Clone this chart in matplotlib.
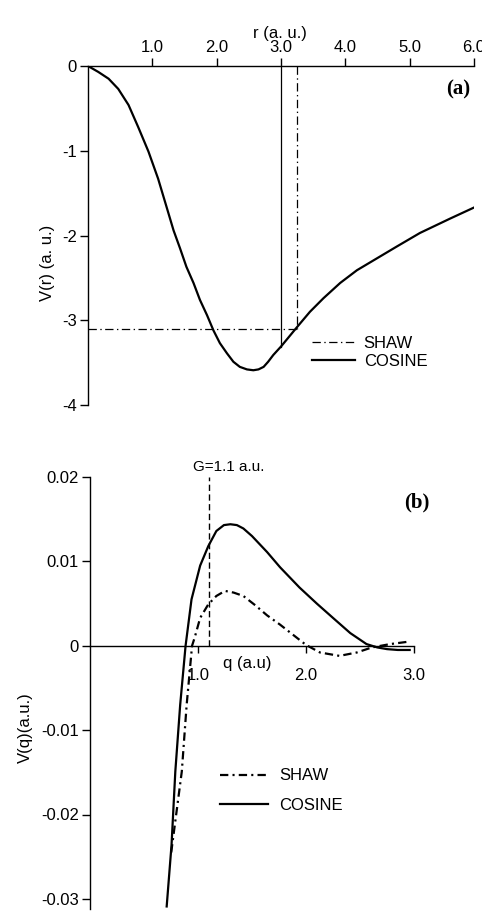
import matplotlib
matplotlib.use("Agg")
import matplotlib.pyplot as plt

plt.rcParams['font.family'] = ['Liberation Sans', 'DejaVu Sans']
plt.rcParams['lines.scale_dashes'] = False

r_cos = [0, 0.16, 0.32, 0.47, 0.63, 0.78, 0.94, 1.09, 1.22, 1.33, 1.43, 1.53, 1.64,
         1.74, 1.85, 1.95, 2.05, 2.16, 2.26, 2.36, 2.47, 2.57, 2.65, 2.73, 2.80, 2.88,
         3.0, 3.25, 3.45, 3.66, 3.92, 4.18, 4.49, 4.80, 5.16, 5.63, 6.0]
v_cos = [0, -0.07, -0.15, -0.27, -0.46, -0.72, -1.01, -1.33, -1.66, -1.94, -2.15,
         -2.37, -2.56, -2.76, -2.94, -3.12, -3.27, -3.39, -3.49, -3.55, -3.58, -3.59,
         -3.58, -3.55, -3.49, -3.41, -3.31, -3.08, -2.90, -2.74, -2.56, -2.41, -2.27,
         -2.13, -1.97, -1.80, -1.67]
r_shaw = [0, 3.25]
v_shaw = [-3.1, -3.1]
r_cut_cos, v_cut_cos = 3.0, -3.31
r_cut_shaw, v_cut_shaw = 3.25, -3.1
r_ticks = [1, 2, 3, 4, 5, 6]
r_ticklabels = ["1.0", "2.0", "3.0", "4.0", "5.0", "6.0"]
vr_ticks = [0, -1, -2, -3, -4]
vr_ticklabels = ["0", "-1", "-2", "-3", "-4"]

# (b) form factors
q_cos = [0.71, 0.755, 0.79, 0.835, 0.885, 0.94, 1.02, 1.095, 1.17, 1.24, 1.30, 1.36,
         1.42, 1.50, 1.64, 1.76, 1.94, 2.10, 2.25, 2.41, 2.56, 2.66, 2.75, 2.85, 2.96]
vq_cos = [-0.0309, -0.0236, -0.0149, -0.0070, 0.0, 0.0055, 0.0095, 0.0118, 0.0136,
          0.0143, 0.0144, 0.0143, 0.0139, 0.0130, 0.0111, 0.0093, 0.0069, 0.0050,
          0.0033, 0.0015, 0.0002, -0.0002, -0.0004, -0.0005, -0.0005]
q_shaw = [0.752, 0.85, 0.895, 0.945, 0.97, 1.02, 1.095, 1.17, 1.25, 1.33, 1.42, 1.53,
          1.64, 1.76, 1.85, 2.0, 2.13, 2.31, 2.47, 2.61, 2.78, 2.96]
vq_shaw = [-0.0245, -0.0149, -0.0070, 0.0, 0.0010, 0.0033, 0.0049, 0.0059, 0.0065,
           0.0063, 0.0059, 0.0048, 0.0036, 0.0025, 0.0016, 0.0001, -0.0008, -0.0012,
           -0.0008, -0.0002, 0.0002, 0.0005]
G = 1.1
q_ticks = [1, 2, 3]
q_ticklabels = ["1.0", "2.0", "3.0"]
vq_ticks = [0.02, 0.01, 0, -0.01, -0.02, -0.03]
vq_ticklabels = ["0.02", "0.01", "0", "-0.01", "-0.02", "-0.03"]

fig = plt.figure(figsize=(4.82, 9.15), dpi=100)
W, H = 482, 915
ax1 = fig.add_axes([88 / W, 1 - 405 / H, 386 / W, 339 / H])
ax2 = fig.add_axes([90 / W, 1 - 909 / H, 324 / W, 432 / H])

# ---- panel (a)
shaw_a, = ax1.plot(r_shaw, v_shaw, color='k', lw=0.9, dashes=(6, 2.5, 1, 2.5), label='SHAW')
ax1.plot([r_cut_shaw, r_cut_shaw], [0, v_cut_shaw], color='k', lw=0.9, dashes=(6, 2.5, 1, 2.5))
ax1.plot([r_cut_cos, r_cut_cos], [0, v_cut_cos], color='k', lw=0.9)
cos_a, = ax1.plot(r_cos, v_cos, color='k', lw=1.6, label='COSINE')

ax1.set_xlim(0, 6)
ax1.set_ylim(-4, 0)
for s in ['bottom', 'right']:
    ax1.spines[s].set_visible(False)
for s in ['top', 'left']:
    ax1.spines[s].set_linewidth(1)
ax1.xaxis.tick_top()
ax1.xaxis.set_label_position('top')
ax1.set_xticks(r_ticks, r_ticklabels)
ax1.set_yticks(vr_ticks, vr_ticklabels)
ax1.tick_params(direction='out', length=6, width=1, labelsize=12, pad=2)
ax1.set_xlabel("r (a. u.)", fontsize=12)
ax1.xaxis.set_label_coords(0.497, 1.097)
ax1.xaxis.label.set_va('center')
ax1.set_ylabel("V(r) (a. u.)", fontsize=12)
ax1.yaxis.set_label_coords(-0.106, 0.419)
ax1.yaxis.label.set_va('center')
ax1.text(0.958, 0.932, "(a)", transform=ax1.transAxes, ha='center', va='center',
         fontsize=15, fontweight='bold', family=['Liberation Serif', 'DejaVu Serif'])
fig.legend(handles=[shaw_a, cos_a], loc='upper left', bbox_to_anchor=(312 / W, 1 - 335.5 / H),
           frameon=False, fontsize=12, borderpad=0, borderaxespad=0, handlelength=2.6,
           handletextpad=0.5, labelspacing=0.18)

# ---- panel (b)
ax2.plot([G, G], [0, 0.02], color='k', lw=1, dashes=(4.5, 2.5))
shaw_b, = ax2.plot(q_shaw, vq_shaw, color='k', lw=1.6, dashes=(6, 3, 1.5, 3), label='SHAW')
cos_b, = ax2.plot(q_cos, vq_cos, color='k', lw=1.6, label='COSINE')

ax2.set_xlim(0, 3.0)
ax2.set_ylim(-0.0312, 0.02)
ax2.spines['top'].set_visible(False)
ax2.spines['right'].set_visible(False)
ax2.spines['bottom'].set_position(('data', 0))
ax2.spines['bottom'].set_bounds(0, 3.0)
ax2.spines['bottom'].set_linewidth(1)
ax2.spines['left'].set_linewidth(1)
ax2.set_xticks(q_ticks, q_ticklabels)
ax2.set_yticks(vq_ticks, vq_ticklabels)
ax2.tick_params(axis='y', direction='out', length=6, width=1, labelsize=12, pad=2)
ax2.tick_params(axis='x', direction='out', length=5, width=1, labelsize=12, pad=11)
ax2.set_xlabel("q (a.u)", fontsize=12)
ax2.xaxis.set_label_coords(0.485, 0.569)
ax2.xaxis.label.set_va('center')
ax2.set_ylabel("V(q)(a.u.)", fontsize=12)
ax2.yaxis.set_label_coords(-0.20, 0.421)
ax2.yaxis.label.set_va('center')
ax2.text(1.28, 0.0212, "G=1.1 a.u.", ha='center', va='center', fontsize=11)
ax2.text(1.009, 0.942, "(b)", transform=ax2.transAxes, ha='center', va='center',
         fontsize=15, fontweight='bold', family=['Liberation Serif', 'DejaVu Serif'])
fig.legend(handles=[shaw_b, cos_b], loc='upper left', bbox_to_anchor=(220 / W, 1 - 768.5 / H),
           frameon=False, fontsize=12, borderpad=0, borderaxespad=0, handlelength=2.9,
           handletextpad=0.65, labelspacing=0.84)

fig.savefig("out.png", dpi=100)
